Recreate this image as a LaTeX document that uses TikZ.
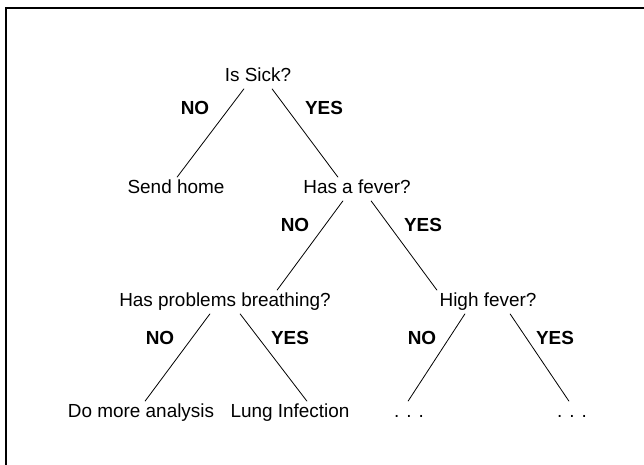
\documentclass[tikz,border=0pt]{standalone}
\usepackage{fontspec}
\setmainfont{Liberation Sans}
\usetikzlibrary{positioning}
\begin{document}
\begin{tikzpicture}[
    x=1bp, y=-1bp,
    q/.style={inner sep=0pt, outer sep=3bp, text height=13.5bp, text depth=4bp,
              font=\fontsize{19}{23}\selectfont},
    ans/.style={q, font=\fontsize{19}{23}\selectfont\bfseries},
    br/.style={line width=0.8bp},
  ]
    \useasboundingbox (0,0) rectangle (644,465);
    \draw[line width=2bp] (6,465) -- (6,8) -- (644,8);
    % questions and outcomes
    \node[q] (sick)   at (258,77)  {Is Sick?};
    \node[q] (home)   at (176,189) {Send home};
    \node[q] (fever)  at (357,189) {Has a fever?};
    \node[q] (breath) at (225,302) {Has problems breathing?};
    \node[q] (high)   at (488,302) {High fever?};
    \node[q] (more)   at (141,413) {Do more analysis};
    \node[q] (lung)   at (290,413) {Lung Infection};
    \node[q] (dotsA)  at (409,413) {. . .};
    \node[q] (dotsB)  at (572,413) {. . .};
    % answers
    \node[ans] (n1) at (195,110) {NO};
    \node[ans] (y1) at (324,110) {YES};
    \node[ans] (n2) at (295,227) {NO};
    \node[ans] (y2) at (423,227) {YES};
    \node[ans] (n3) at (160,340) {NO};
    \node[ans] (y3) at (290,340) {YES};
    \node[ans] (n4) at (422,340) {NO};
    \node[ans] (y4) at (555,340) {YES};
    % branches
    \draw[br] ([xshift=-14bp]sick.south)   -- ([xshift=1bp]home.north);
    \draw[br] ([xshift=14bp]sick.south)    -- ([xshift=-19bp]fever.north);
    \draw[br] ([xshift=-14bp]fever.south)  -- ([xshift=52bp]breath.north);
    \draw[br] ([xshift=14bp]fever.south)   -- ([xshift=-51bp]high.north);
    \draw[br] ([xshift=-15bp]breath.south) -- ([xshift=4bp]more.north);
    \draw[br] ([xshift=15bp]breath.south)  -- ([xshift=17bp]lung.north);
    \draw[br] ([xshift=-23bp]high.south)   -- ([xshift=-1bp]dotsA.north);
    \draw[br] ([xshift=22bp]high.south)    -- ([xshift=-3bp]dotsB.north);
\end{tikzpicture}
\end{document}
